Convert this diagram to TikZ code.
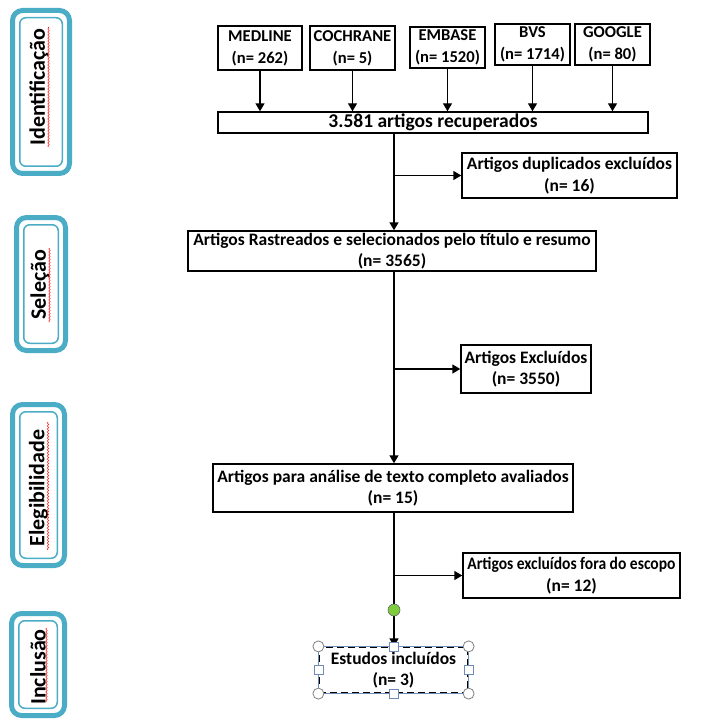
\documentclass[tikz,border=0pt]{standalone}
\usepackage{fontspec}
\usepackage{graphicx}
\setmainfont{Carlito}
\usetikzlibrary{arrows.meta,decorations.pathmorphing,calc}
\definecolor{teal5}{RGB}{75,172,198}
\definecolor{handleblue}{RGB}{110,140,180}
\definecolor{dotgreen}{RGB}{125,205,60}
\tikzset{
  box/.style={draw=black, line width=1.4pt, inner sep=0pt, align=center, font=\bfseries\fontsize{17.5}{21.5}\selectfont},
  srcbox/.style={box, font=\bfseries\fontsize{16.6}{22}\selectfont},
  conn/.style={line width=1.4pt, draw=black},
  arr/.style={conn, -{Triangle[length=8pt,width=9pt]}},
  sideout/.style={draw=teal5, line width=5pt, rounded corners=10pt},
  sidein/.style={draw=teal5, line width=1.5pt, rounded corners=6pt},
  sidelabel/.style={rotate=90, font=\bfseries\fontsize{22}{24}\selectfont},
  spell/.style={draw=red!85, line width=0.6pt, decorate, decoration={snake, amplitude=0.7pt, segment length=3pt}},
  circhandle/.style={draw=gray, fill=white, line width=0.8pt},
  sqhandle/.style={draw=handleblue, fill=white, line width=0.8pt}
}
\begin{document}
\begin{tikzpicture}[x=1pt,y=1pt]
\useasboundingbox (0,0) rectangle (705,-722);
% side stage boxes
\draw[sideout] (12.5,-10.5) rectangle (69.5,-173.5);
\draw[sidein] (19.75,-17.75) rectangle (62.25,-166.25);
\node[sidelabel] (lid) at (39,-87) {Identificação};
\draw[spell] (48.5,-147) -- (48.5,-27);

\draw[sideout] (16.5,-217.5) rectangle (65.5,-350.5);
\draw[sidein] (23.75,-224.75) rectangle (58.25,-343.25);
\node[sidelabel] (lsel) at (40,-285) {Seleção};
\draw[spell] (49.5,-322) -- (49.5,-248);

\draw[sideout] (12.5,-404.5) rectangle (64.5,-565.5);
\draw[sidein] (19.75,-411.75) rectangle (57.25,-558.25);
\node[sidelabel] (leg) at (38.5,-488) {Elegibilidade};
\draw[spell] (48,-550) -- (48,-422);

\draw[sideout] (11.5,-613.5) rectangle (64.5,-715.5);
\draw[sidein] (18.75,-620.75) rectangle (57.25,-708.25);
\node[sidelabel] (linc) at (38,-667) {Inclusão};
\draw[spell] (46.5,-702) -- (46.5,-628);

% source boxes
\node[srcbox, minimum width=84pt, minimum height=44pt] (med) at (260,-48) {MEDLINE\\(n= 262)};
\node[srcbox, minimum width=85pt, minimum height=44pt] (coch) at (352.5,-48) {COCHRANE\\(n= 5)};
\node[srcbox, minimum width=75pt, minimum height=41pt] (emb) at (447.5,-47.5) {EMBASE\\(n= 1520)};
\node[srcbox, minimum width=75pt, minimum height=41pt] (bvs) at (532.5,-44.5) {BVS\\(n= 1714)};
\node[srcbox, minimum width=75pt, minimum height=41pt] (goo) at (612.5,-44.5) {GOOGLE\\(n= 80)};

\node[box, minimum width=430pt, minimum height=21pt, font=\bfseries\fontsize{19.5}{21}\selectfont] (rec) at (433,-122.5) {3.581 artigos recuperados};

\node[box, minimum width=215pt, minimum height=45pt] (dup) at (569.5,-175.5) {Artigos duplicados excluídos\\(n= 16)};
\node[box, minimum width=408pt, minimum height=40pt] (ras) at (392,-251) {Artigos Rastreados e selecionados pelo título e resumo\\(n= 3565)};
\node[box, minimum width=130pt, minimum height=48pt] (exc) at (526,-369) {Artigos Excluídos\\(n= 3550)};
\node[box, minimum width=360pt, minimum height=48pt] (ana) at (393,-488) {Artigos para análise de texto completo avaliados\\(n= 15)};
\node[box, minimum width=217pt, minimum height=45pt] (fora) at (571.5,-575.5) {\scalebox{0.89}[1]{Artigos excluídos fora do escopo}\\(n= 12)};
\node[box, minimum width=149pt, minimum height=46pt, dash pattern=on 7pt off 4pt, line width=1.2pt] (est) at (393.5,-670) {Estudos incluídos\\(n= 3)};

% source arrows
\foreach \s in {med,coch,emb,bvs,goo}
  \draw[arr] (\s.south) -- (\s.south |- rec.north);

% spine
\coordinate (sp) at (394,0);
\draw[arr] (sp |- rec.south) -- (sp |- ras.north);
\draw[arr] (sp |- dup.west) -- (dup.west);
\draw[arr] (sp |- ras.south) -- (sp |- ana.north);
\draw[arr] (sp |- exc.west) -- (exc.west);
\draw[arr] (sp |- ana.south) -- (sp |- est.north);
\draw[arr] (sp |- fora.west) -- (fora.west);

% selection handles
\draw[handleblue, line width=0.6pt] (est.north west) rectangle (est.south east);
\node[circle, draw=gray!80!black, fill=dotgreen, minimum size=12pt, inner sep=0pt, line width=0.6pt] (rot) at (394,-610) {};
\foreach \p in {north west, north east, south west, south east}
  \draw[circhandle] (est.\p) circle (5.5pt);
\foreach \p in {north, south, west, east}
  \draw[sqhandle] ($(est.\p)+(-4.5,-4.5)$) rectangle ++(9,9);
\end{tikzpicture}
\end{document}
